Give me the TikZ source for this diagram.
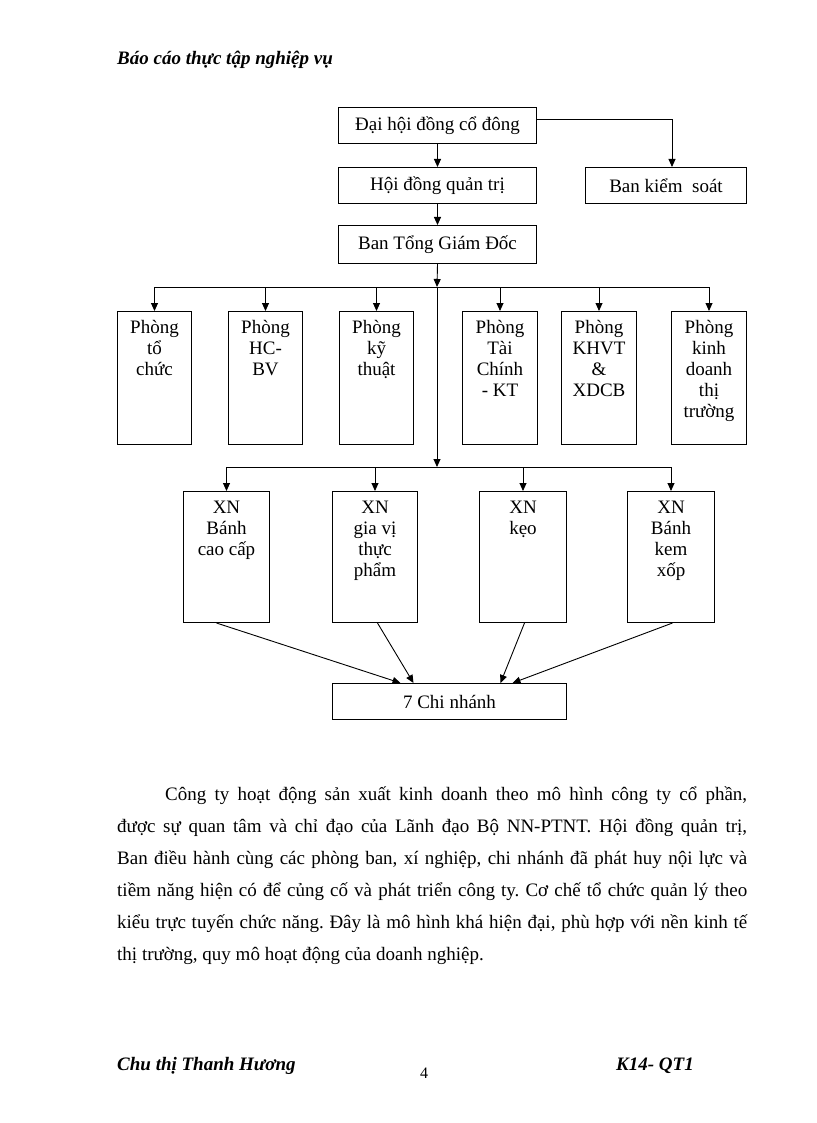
\documentclass[tikz,border=0pt]{standalone}
\usepackage{fontspec}
\setmainfont{Liberation Serif}
\usetikzlibrary{arrows.meta}
\newcommand\boxfont{\fontsize{19}{21}\selectfont}
\newcommand\boxtext[3]{\parbox[t][#2][t]{#1}{\centering\boxfont\rule{0pt}{22pt}#3}}
\begin{document}
\begin{tikzpicture}[x=1pt,y=-1pt,
  box/.style={draw, line width=1pt, inner sep=0pt, anchor=north west, font=\boxfont},
  conn/.style={line width=0.9pt, -{Triangle[length=8pt,width=7pt]}},
  plainline/.style={line width=0.9pt},
  bi/.style={inner sep=0pt, font=\fontsize{19}{21}\selectfont\bfseries\itshape}]
\useasboundingbox[fill=white] (0,0) rectangle (816,1123);

% header
\node[bi, anchor=base west] (hdr) at (117,65) {Báo cáo thực tập nghiệp vụ};

% top boxes
\node[box, minimum width=198pt, minimum height=36pt] (dh) at (338,107) {Đại hội đồng cổ đông};
\node[box, minimum width=198pt, minimum height=36pt] (hdqt) at (338,167) {Hội đồng quản trị};
\node[box, minimum width=161pt, minimum height=36pt] (bks) at (585,167) {Ban kiểm\ \ soát};
\node[box, minimum width=198pt, minimum height=38pt] (btgd) at (338,225) {Ban Tổng Giám Đốc};

% departments
\node[box] (p1) at (117,311) {\boxtext{74pt}{133pt}{Phòng\\tổ\\chức}};
\node[box] (p2) at (228,311) {\boxtext{74pt}{133pt}{Phòng\\HC-\\BV}};
\node[box] (p3) at (339,311) {\boxtext{74pt}{133pt}{Phòng\\kỹ\\thuật}};
\node[box] (p4) at (462,311) {\boxtext{75pt}{133pt}{Phòng\\Tài\\Chính\\- KT}};
\node[box] (p5) at (561,311) {\boxtext{75pt}{133pt}{Phòng\\KHVT\\\&\\XDCB}};
\node[box] (p6) at (671,311) {\boxtext{75pt}{133pt}{Phòng\\kinh\\doanh\\thị\\trường}};

% enterprises
\node[box] (x1) at (183,491) {\boxtext{86pt}{131pt}{XN\\Bánh\\cao cấp}};
\node[box] (x2) at (332,491) {\boxtext{85pt}{131pt}{XN\\gia vị\\thực\\phẩm}};
\node[box] (x3) at (479,491) {\boxtext{87pt}{131pt}{XN\\kẹo}};
\node[box] (x4) at (627,491) {\boxtext{87pt}{131pt}{XN\\Bánh\\kem\\xốp}};

\node[box, minimum width=234pt, minimum height=36pt] (cn) at (332,683) {7 Chi nhánh};

% connectors
\coordinate (j1) at (437,287);
\coordinate (j2) at (437,467);
\draw[conn] (dh) -- (hdqt);
\draw[conn] (hdqt) -- (btgd);
\draw[conn] ([yshift=6pt]dh.east) -| ([xshift=6pt]bks.north);
\draw[conn] (btgd.south) -- (j1);
\draw[conn] (j1) -- (j2);
\draw[plainline] (p1.north |- j1) -- (p6.north |- j1);
\foreach \n in {p1,p2,p3,p4,p5,p6} \draw[conn] (\n.north |- j1) -- (\n.north);
\draw[plainline] (x1.north |- j2) -- (x4.north |- j2);
\foreach \n in {x1,x2,x3,x4} \draw[conn] (\n.north |- j2) -- (\n.north);
\draw[conn] ([xshift=-10pt]x1.south) -- ([xshift=-49pt]cn.north);
\draw[conn] ([xshift=2.5pt]x2.south) -- ([xshift=-36pt]cn.north);
\draw[conn] ([xshift=1.5pt]x3.south) -- ([xshift=51pt]cn.north);
\draw[conn] ([xshift=1.5pt]x4.south) -- ([xshift=63pt]cn.north);

% paragraph
\node[anchor=base west, inner sep=0pt] (para) at (117,800) {\parbox[t]{630pt}{\fontsize{19}{32}\selectfont\frenchspacing
\hspace*{48pt}Công ty hoạt động sản xuất kinh doanh theo mô hình công ty cổ phần,\linebreak
được sự quan tâm và chỉ đạo của Lãnh đạo Bộ NN-PTNT. Hội đồng quản trị,\linebreak
Ban điều hành cùng các phòng ban, xí nghiệp, chi nhánh đã phát huy nội lực và\linebreak
tiềm năng hiện có để củng cố và phát triển công ty. Cơ chế tổ chức quản lý theo\linebreak
kiểu trực tuyến chức năng. Đây là mô hình khá hiện đại, phù hợp với nền kinh tế\linebreak
thị trường, quy mô hoạt động của doanh nghiệp.}};

% footer
\node[bi, anchor=base west] (author) at (117,1070) {Chu thị Thanh Hương};
\node[inner sep=0pt, anchor=base, font=\fontsize{16}{18}\selectfont] (pg) at (424,1078) {4};
\node[bi, anchor=base east] (cls) at (694,1070) {K14- QT1};
\end{tikzpicture}
\end{document}
